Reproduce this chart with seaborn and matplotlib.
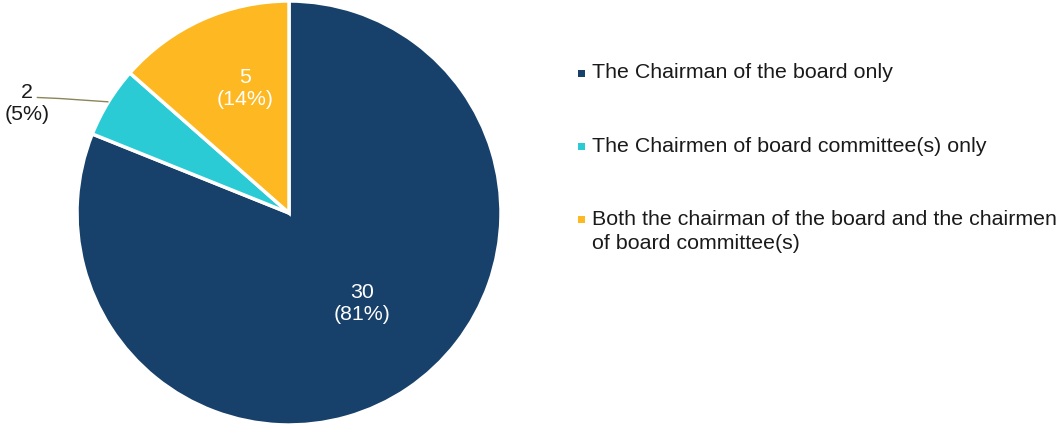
import matplotlib
matplotlib.use("Agg")
import matplotlib.pyplot as plt
from matplotlib.patches import Rectangle
import numpy as np
import seaborn as sns

# Board positions held by the directors concerned
categories = [
    "The Chairman of the board only",
    "The Chairmen of board committee(s) only",
    "Both the chairman of the board and the chairmen\nof board committee(s)",
]
counts = [30, 2, 5]
percent_labels = ["81%", "5%", "14%"]

colors = sns.color_palette(["#17416A", "#2BCBD6", "#FDB822"])

sns.set_theme(style="white")
plt.rcParams["font.family"] = ["Liberation Sans", "DejaVu Sans"]

W, H = 1058, 426
fig = plt.figure(figsize=(W / 100, H / 100), dpi=100)
ax = fig.add_axes([77 / W, 1 / H, 424 / W, 424 / H])

wedges, _ = ax.pie(
    counts,
    colors=colors,
    startangle=90,
    counterclock=False,
    radius=1.0,
    wedgeprops=dict(edgecolor="white", linewidth=2.5),
)
ax.set_xlim(-1, 1)
ax.set_ylim(-1, 1)
ax.set_aspect("equal")
ax.axis("off")

fs = 15.4
text_color = "#1a1a1a"
# label placement per slice: (radius, angular shift in degrees)
label_place = [(0.55, 5.0), None, (0.625, -4.8)]

for i, w in enumerate(wedges):
    mid_deg = (w.theta1 + w.theta2) / 2
    text = f"{counts[i]}\n({percent_labels[i]})"
    if label_place[i] is None:
        # small slice: label outside, joined to the slice by a leader line
        mid = np.deg2rad(mid_deg)
        ex, ey = np.cos(mid), np.sin(mid)
        ax.text(-1.237, 0.515, text, ha="center", va="center", fontsize=fs,
                color=text_color, linespacing=1.2)
        ax.plot([-1.19, -1.08, ex], [0.545, 0.54, ey], color="#8C8558",
                lw=1.0, clip_on=False, solid_capstyle="butt")
    else:
        r, shift = label_place[i]
        a = np.deg2rad(mid_deg + shift)
        ax.text(r * np.cos(a), r * np.sin(a), text, ha="center",
                va="center", fontsize=fs, color="white", linespacing=1.2)

# legend: small square keys with labels, first line aligned to the key
key_x = 581
text_x = 592
row_y = [73, 146, 219]
line_px = 25
for c, lab, y in zip(colors, categories, row_y):
    s = 7
    fig.add_artist(Rectangle(((key_x - s / 2) / W, 1 - (y + s / 2) / H), s / W, s / H,
                             transform=fig.transFigure, facecolor=c, edgecolor="none"))
    n = lab.count("\n") + 1
    yc = y + (n - 1) * line_px / 2
    fig.text(text_x / W, 1 - yc / H, lab, ha="left", va="center", fontsize=fs,
             color=text_color, linespacing=1.31)

fig.savefig("out.png", dpi=100)
